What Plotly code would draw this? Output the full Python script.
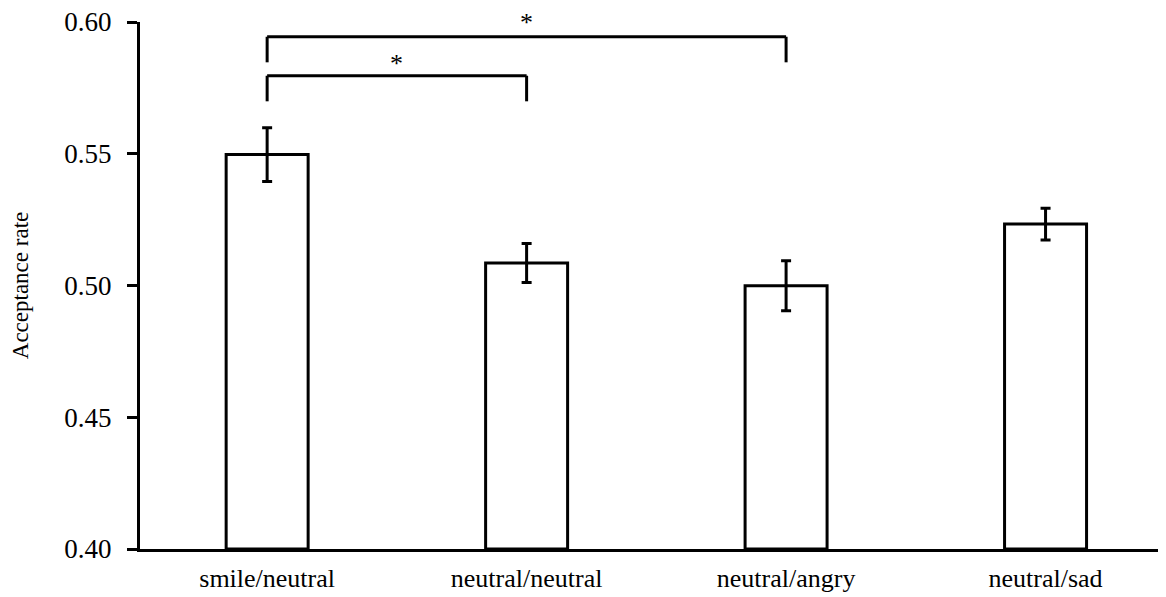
import plotly.graph_objects as go

categories = ["smile/neutral", "neutral/neutral", "neutral/angry", "neutral/sad"]
means = [0.5497, 0.5085, 0.4999, 0.5233]
errors = [0.0102, 0.0074, 0.0095, 0.0060]
y_ticks = [0.40, 0.45, 0.50, 0.55, 0.60]
y_tick_labels = ["0.40", "0.45", "0.50", "0.55", "0.60"]
Y_MIN, Y_MAX = 0.40, 0.60

# significance brackets: (from index, to index, bar level, leg bottom, star y)
brackets = [
    (0, 1, 0.5796, 0.5699, 0.5843),
    (0, 2, 0.5944, 0.5847, 0.5998),
]

FONT = "Liberation Serif"

fig = go.Figure()
fig.add_trace(go.Bar(
    x=list(range(len(categories))),
    y=[m - Y_MIN for m in means],
    base=Y_MIN,
    width=0.316,
    marker=dict(color="white", line=dict(color="black", width=3)),
    error_y=dict(type="data", array=errors, color="black", thickness=3, width=5),
    showlegend=False,
))

for a, b, top, bottom, star in brackets:
    fig.add_shape(type="line", x0=a, x1=a, y0=bottom, y1=top, xref="x", yref="y",
                  line=dict(color="black", width=3))
    fig.add_shape(type="line", x0=a, x1=b, y0=top, y1=top, xref="x", yref="y",
                  line=dict(color="black", width=3))
    fig.add_shape(type="line", x0=b, x1=b, y0=top, y1=bottom, xref="x", yref="y",
                  line=dict(color="black", width=3))
    fig.add_annotation(x=(a + b) / 2, y=(star - Y_MIN) / (Y_MAX - Y_MIN),
                       text="*", showarrow=False,
                       xref="x", yref="paper", yanchor="middle",
                       font=dict(family=FONT, size=26, color="black"))

fig.update_layout(
    width=1166, height=597,
    margin=dict(l=132, r=0, t=14, b=56),
    paper_bgcolor="white", plot_bgcolor="white",
    font=dict(family=FONT, color="black"),
    xaxis=dict(
        range=[-0.49, 3.495],
        tickmode="array", tickvals=list(range(len(categories))), ticktext=categories,
        showline=True, linecolor="black", linewidth=3,
        ticks="", showgrid=False, zeroline=False,
        ticklabelstandoff=4,
        tickfont=dict(family=FONT, size=26, color="black"),
    ),
    yaxis=dict(
        range=[Y_MIN, Y_MAX + 1e-9],
        tickmode="array", tickvals=y_ticks, ticktext=y_tick_labels,
        showline=True, linecolor="black", linewidth=3,
        ticks="outside", ticklen=10, tickwidth=3, tickcolor="black",
        ticklabelstandoff=10, ticklabeloverflow="allow",
        showgrid=False, zeroline=False,
        tickfont=dict(family=FONT, size=27, color="black"),
        title=dict(text="Acceptance rate", font=dict(family=FONT, size=23, color="black"),
                   standoff=30),
    ),
)

fig.write_html("out.html")
